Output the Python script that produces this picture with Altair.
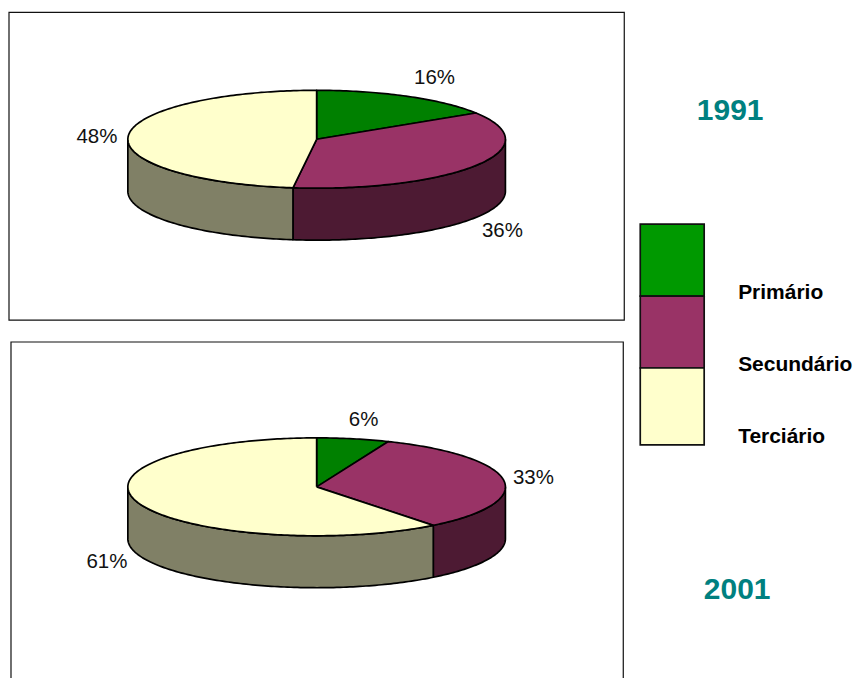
import math
import altair as alt
import pandas as pd

# ---- values ----
categories = ["Primário", "Secundário", "Terciário"]
years = ["1991", "2001"]
shares_1991 = [16, 36, 48]
shares_2001 = [6.2, 33.2, 60.6]
top_colors = ["#008000", "#993366", "#FFFFCC"]
side_colors = ["#004000", "#4D1A33", "#808066"]
legend_colors = ["#009900", "#993366", "#FFFFCC"]

# ---- layout ----
X0, X1, Y0, Y1 = 7, 852, 8, 678
RX, RY, DEPTH = 189, 49, 52
CENTERS = {"1991": (316, 139), "2001": (316, 487)}
FRAMES = [(8, 624, 12, 320), (10, 623, 342, 700)]
YEAR_POS = {"1991": (730, 111), "2001": (737, 590)}
PCT_POS = {"1991": [(434, 78), (502, 231), (96, 137)],
           "2001": [(363, 420), (533, 478), (106, 562)]}
LEGEND_X = (640, 704)
LEGEND_Y = [(224, 296), (296, 368), (368, 445)]
LEGEND_LABEL = (738, [293, 365, 437])


def pt(c, deg, dy=0.0):
    a = math.radians(deg)
    return c[0] + RX * math.sin(a), c[1] - RY * math.cos(a) + dy


def arc(a, b):
    n = max(2, int(abs(b - a)) + 1)
    return [a + (b - a) * i / (n - 1) for i in range(n)]


sides, tops = [], []
for year, shares in zip(years, [shares_1991, shares_2001]):
    c = CENTERS[year]
    start = 0.0
    for i, s in enumerate(shares):
        end = start + s * 3.6
        # top wedge
        poly = [c] + [pt(c, d) for d in arc(start, end)] + [c]
        for k, (x, y) in enumerate(poly):
            tops.append(dict(id=f"{year}-{i}", k=k, x=x, y=y, fill=top_colors[i]))
        # visible side wall (front half of the rim only)
        lo, hi = max(start, 90.0), min(end, 270.0)
        if hi > lo:
            ds = arc(lo, hi)
            poly = [pt(c, d) for d in ds] + [pt(c, d, DEPTH) for d in reversed(ds)]
            poly.append(poly[0])
            for k, (x, y) in enumerate(poly):
                sides.append(dict(id=f"{year}-{i}", k=k, x=x, y=y, fill=side_colors[i]))
        start = end

x_scale = alt.Scale(domain=[X0, X1], nice=False, zero=False)
y_scale = alt.Scale(domain=[Y1, Y0], nice=False, zero=False)
X = alt.X("x:Q", scale=x_scale, axis=None)
Y = alt.Y("y:Q", scale=y_scale, axis=None)
X2 = alt.X2("x2:Q")
Y2 = alt.Y2("y2:Q")


def pie(rows):
    return alt.Chart(pd.DataFrame(rows)).mark_line(
        stroke="black", strokeWidth=1.7, strokeJoin="round", clip=False
    ).encode(
        x=X, y=Y, order="k:Q", detail="id:N", fill=alt.Fill("fill:N", scale=None)
    )


frames = alt.Chart(pd.DataFrame(
    [dict(x=a, x2=b, y=c, y2=d) for a, b, c, d in FRAMES]
)).mark_rect(fill="white", stroke="#111111", strokeWidth=1.2).encode(x=X, x2=X2, y=Y, y2=Y2)

legend_rects = alt.Chart(pd.DataFrame(
    [dict(x=LEGEND_X[0], x2=LEGEND_X[1], y=a, y2=b, fill=col)
     for (a, b), col in zip(LEGEND_Y, legend_colors)]
)).mark_rect(stroke="#111111", strokeWidth=1.7).encode(
    x=X, x2=X2, y=Y, y2=Y2, fill=alt.Fill("fill:N", scale=None)
)

legend_text = alt.Chart(pd.DataFrame(
    [dict(x=LEGEND_LABEL[0], y=y, t=t) for y, t in zip(LEGEND_LABEL[1], categories)]
)).mark_text(
    font="Liberation Sans", fontWeight="bold", fontSize=21,
    align="left", baseline="middle", color="black"
).encode(x=X, y=Y, text="t:N")

pct_rows = []
for year, shares in zip(years, [shares_1991, shares_2001]):
    for (x, y), s in zip(PCT_POS[year], shares):
        pct_rows.append(dict(x=x, y=y, t=f"{round(s)}%"))
pct_text = alt.Chart(pd.DataFrame(pct_rows)).mark_text(
    font="Liberation Sans", fontSize=20.5, align="center", baseline="middle", color="#111111"
).encode(x=X, y=Y, text="t:N")

year_text = alt.Chart(pd.DataFrame(
    [dict(x=YEAR_POS[y][0], y=YEAR_POS[y][1], t=y) for y in years]
)).mark_text(
    font="Liberation Sans", fontWeight="bold", fontSize=30,
    align="center", baseline="middle", color="#008080"
).encode(x=X, y=Y, text="t:N")

chart = alt.layer(
    frames, pie(sides), pie(tops), pct_text, year_text, legend_rects, legend_text
).properties(width=X1 - X0, height=Y1 - Y0, padding=0, background="white"
).configure_view(stroke=None)

chart.save("out.html", embed_options={"renderer": "svg", "actions": False})
